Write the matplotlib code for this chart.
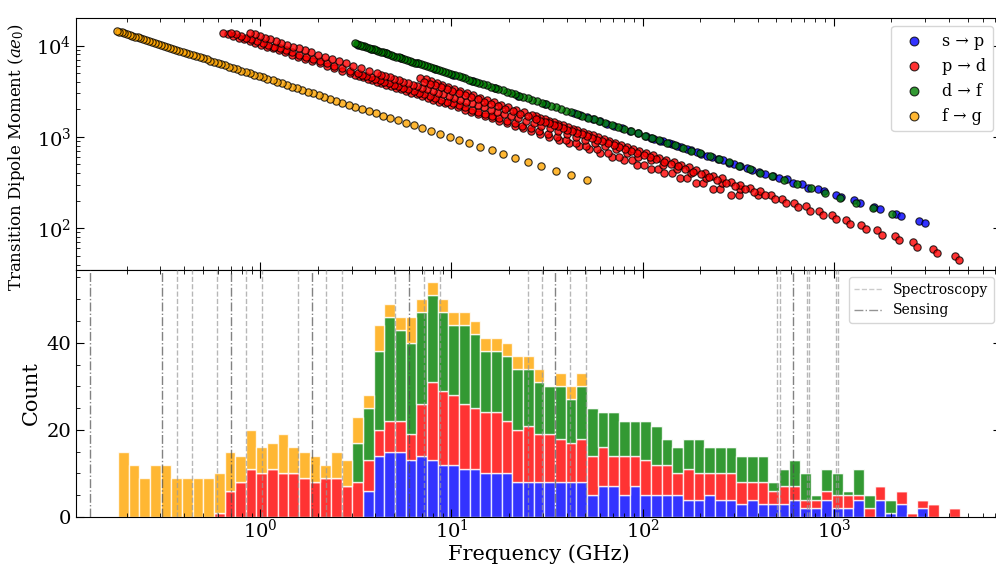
import numpy as np
import matplotlib
matplotlib.use("Agg")
import matplotlib.pyplot as plt
from matplotlib.ticker import MultipleLocator
from matplotlib.lines import Line2D

plt.rcParams['font.family'] = 'serif'
plt.rcParams['font.serif'] = ['DejaVu Serif']
plt.rcParams['mathtext.fontset'] = 'dejavuserif'
plt.rcParams['xtick.direction'] = 'in'
plt.rcParams['ytick.direction'] = 'in'
plt.rcParams['xtick.top'] = True
plt.rcParams['ytick.right'] = True
plt.rcParams['xtick.major.size'] = 6
plt.rcParams['ytick.major.size'] = 6
plt.rcParams['xtick.minor.size'] = 3
plt.rcParams['ytick.minor.size'] = 3

# ---------------- scatter data: frequency (GHz) / dipole moment (a e0) ----------------
# s -> p (two fine-structure branches)
sp1_freq = [2800, 2104, 1620, 1275, 1020, 830, 684, 570, 480, 408, 350, 302, 263, 230, 203,
            179, 159, 142, 128, 115, 104, 94.0, 85.5, 77.9, 71.2, 65.3, 60.0, 55.3, 51.0, 47.2,
            43.8, 30.7, 22.4, 16.8, 13.0, 10.2, 8.16, 6.64, 5.47, 4.56, 3.84, 3.26]
sp1_dip = [119, 144, 171, 201, 233, 268, 305, 344, 369, 412, 456, 503, 552, 603, 657,
           713, 771, 831, 894, 959, 1026, 1096, 1167, 1241, 1318, 1397, 1477, 1561, 1646, 1734,
           1824, 2298, 2836, 3438, 4081, 4801, 5566, 6387, 7264, 8200, 9191, 10257]
sp2_freq = [3000, 2254, 1736, 1366, 1093, 889, 732, 611, 515, 437, 375, 324, 282, 247, 217,
            192, 171, 152, 137, 123, 111]
sp2_dip = [113, 137, 163, 191, 222, 254, 276, 312, 350, 390, 432, 476, 523, 571, 622,
           675, 730, 787, 847, 908, 972]

# p -> d : three low-frequency branches (shared dipoles) and two high-frequency branches
pd_a_dip = [233, 271, 311, 353, 399, 447, 498, 552, 609, 668, 730, 795, 863, 933, 1006, 1082,
            1161, 1242, 1326, 1413, 1503, 1595, 1691, 1788, 1889, 1993, 2099, 2208, 2320, 2434,
            2552, 2672, 2795, 2920, 3048, 3180, 3313, 3450, 3589, 3732, 3876, 4024, 4175, 4328,
            4483, 4642, 4804, 4968, 5305, 5652, 6011, 6381, 6762, 7154, 7557, 7971, 8396, 8832,
            9279, 9737, 10207, 10687, 11178, 11680, 12194, 12718, 13254, 13800]
pd_a1_freq = [291, 233, 190, 156, 130, 110, 93.3, 80.0, 69.1, 60.1, 52.6, 46.3, 41.0, 36.4,
              32.5, 29.2, 26.2, 23.7, 21.5, 19.5, 17.8, 16.3, 14.9, 13.7, 12.6, 11.7, 10.8,
              10.0, 9.29, 8.64, 8.05, 7.51, 7.02, 6.57, 6.16, 5.79, 5.44, 5.12, 4.82, 4.55,
              4.30, 4.06, 3.85, 3.64, 3.46, 3.28, 3.12, 2.96, 2.69, 2.44, 2.23, 2.04, 1.87,
              1.71, 1.58, 1.46, 1.35, 1.25, 1.16, 1.08, 1.01, 0.939, 0.878, 0.822, 0.771,
              0.723, 0.680, 0.640]
pd_a2_freq = [319, 255, 207, 171, 143, 120, 102, 87.5, 75.6, 65.7, 57.5, 50.6, 44.8, 39.8,
              35.6, 31.9, 28.7, 25.9, 23.5, 21.4, 19.5, 17.8, 16.3, 15.0, 13.8, 12.8, 11.8,
              10.9, 10.2, 9.45, 8.81, 8.22, 7.68, 7.19, 6.74, 6.33, 5.95, 5.60, 5.28, 4.98,
              4.70, 4.45, 4.21, 3.99, 3.78, 3.59, 3.41, 3.24, 2.94, 2.67, 2.43, 2.23, 2.04,
              1.88, 1.73, 1.59, 1.47, 1.37, 1.27, 1.18, 1.10, 1.03, 0.960, 0.899, 0.843,
              0.791, 0.743, 0.700]
pd_a3_freq = [401, 321, 261, 215, 179, 151, 128, 110, 95.0, 82.6, 72.3, 63.7, 56.3, 50.1,
              44.7, 40.1, 36.1, 32.6, 29.5, 26.9, 24.5, 22.4, 20.5, 18.9, 17.4, 16.0, 14.8,
              13.8, 12.8, 11.9, 11.1, 10.3, 9.65, 9.04, 8.48, 7.96, 7.48, 7.04, 6.63, 6.26,
              5.91, 5.59, 5.29, 5.01, 4.75, 4.51, 4.28, 4.07, 3.69, 3.36, 3.06, 2.80, 2.57,
              2.36, 2.17, 2.00, 1.85, 1.72, 1.60, 1.48, 1.38, 1.29, 1.21, 1.13, 1.06, 0.994,
              0.935, 0.880]
pd_b1_freq = [4282, 3299, 2595, 2077, 1689, 1391, 1160, 978, 831, 713, 616, 535, 469, 412,
              365, 324, 290, 260, 234, 211, 191, 174, 159, 145, 133, 122, 113, 104, 96.1,
              89.1, 82.7, 77.0, 71.7, 66.9, 62.5, 58.5, 54.9, 51.5, 48.5, 45.6, 43.0, 40.5,
              38.3, 36.2, 34.3, 32.5, 30.8, 29.2, 27.8, 26.4, 23.9, 21.7, 19.8, 18.1, 16.6,
              15.3, 14.1, 13.0, 12.0, 11.1, 10.3, 9.62, 8.96, 8.36, 7.82, 7.32, 6.86]
pd_b1_dip = [49.2, 59.1, 69.9, 81.7, 94.4, 108, 123, 138, 155, 173, 191, 211, 232, 253, 276,
             300, 324, 350, 377, 405, 434, 463, 494, 526, 559, 594, 629, 665, 702, 741, 780,
             820, 862, 905, 948, 993, 1039, 1086, 1134, 1183, 1233, 1285, 1337, 1391, 1445,
             1501, 1558, 1616, 1675, 1735, 1859, 1987, 2119, 2257, 2398, 2544, 2695, 2850,
             3010, 3174, 3343, 3517, 3695, 3878, 4065, 4257, 4454]
pd_b2_freq = [4508, 3472, 2731, 2186, 1778, 1465, 1221, 1029, 875, 750, 648, 564, 493, 434,
              384, 341, 305, 273, 246, 222, 201, 183, 167, 153, 140, 129, 118, 109, 101,
              93.8, 87.1, 81.0, 75.5, 70.4, 65.8, 61.6, 57.8, 54.3, 51.0, 48.0, 45.2, 42.7,
              40.3, 38.1, 36.1, 34.2, 32.4, 30.8, 29.2, 27.8, 25.2, 22.9, 20.9, 19.1, 17.5,
              16.1, 14.8, 13.7, 12.6, 11.7, 10.9, 10.1, 9.43, 8.80, 8.23, 7.70, 7.22]
pd_b2_dip = [44.3, 53.2, 62.9, 73.5, 85.0, 97.3, 111, 125, 140, 155, 172, 190, 208, 228, 248,
             270, 292, 315, 339, 364, 390, 417, 445, 474, 504, 534, 566, 598, 632, 667, 702,
             738, 776, 814, 854, 894, 935, 977, 1021, 1065, 1110, 1157, 1203, 1252, 1301,
             1351, 1402, 1454, 1508, 1562, 1673, 1788, 1907, 2031, 2158, 2290, 2426, 2565,
             2709, 2857, 3009, 3165, 3326, 3490, 3659, 3831, 4009]

# d -> f
df_freq = [2003, 1603, 1304, 1074, 895, 755, 642, 550, 475, 413, 362, 318, 282, 250, 224,
           200, 180, 163, 148, 134, 122, 112, 103, 94.3, 86.9, 80.2, 74.2, 68.8, 63.8, 59.4,
           55.4, 51.7, 48.3, 45.2, 42.4, 39.8, 37.4, 35.2, 33.2, 31.3, 29.6, 27.9, 26.4, 25.1,
           23.8, 22.6, 21.4, 20.4, 19.4, 18.5, 17.6, 16.8, 16.0, 15.3, 14.6, 14.0, 13.4, 12.8,
           12.3, 11.8, 11.3, 10.9, 10.4, 10.0, 9.64, 9.27, 8.92, 8.59, 8.28, 7.98, 7.70, 7.42,
           7.16, 6.92, 6.68, 6.45, 6.24, 6.04, 5.84, 5.65, 5.47, 5.30, 5.13, 4.97, 4.82, 4.67,
           4.54, 4.40, 4.27, 4.15, 4.03, 3.91, 3.80, 3.69, 3.59, 3.49, 3.40, 3.31, 3.22, 3.13]
df_dip = [142, 165, 189, 215, 243, 272, 303, 336, 370, 407, 444, 484, 525, 568, 612, 659, 706,
          756, 807, 860, 915, 971, 1029, 1089, 1150, 1213, 1278, 1344, 1412, 1482, 1553, 1626,
          1701, 1777, 1856, 1935, 2017, 2100, 2185, 2271, 2360, 2449, 2541, 2634, 2729, 2826,
          2924, 3024, 3126, 3229, 3334, 3441, 3549, 3659, 3771, 3884, 3999, 4116, 4234, 4355,
          4476, 4600, 4725, 4852, 4980, 5111, 5242, 5376, 5511, 5648, 5787, 5927, 6069, 6213,
          6358, 6505, 6654, 6804, 6956, 7110, 7265, 7422, 7581, 7741, 7904, 8067, 8233, 8400,
          8569, 8739, 8912, 9085, 9261, 9438, 9617, 9798, 9980, 10164, 10350, 10537]

# f -> g
fg_freq = [51.0, 42.0, 35.0, 29.5, 25.1, 21.5, 18.6, 16.2, 14.1, 12.4, 11.0, 9.79, 8.74, 7.84,
           7.05, 6.37, 5.77, 5.25, 4.79, 4.38, 4.01, 3.69, 3.40, 3.13, 2.90, 2.69, 2.50, 2.32,
           2.16, 2.02, 1.89, 1.77, 1.66, 1.56, 1.46, 1.38, 1.30, 1.22, 1.16, 1.09, 1.03, 0.979,
           0.929, 0.882, 0.837, 0.796, 0.758, 0.722, 0.688, 0.656, 0.626, 0.598, 0.572, 0.547,
           0.524, 0.501, 0.481, 0.461, 0.442, 0.424, 0.408, 0.392, 0.377, 0.362, 0.349, 0.336,
           0.324, 0.312, 0.301, 0.290, 0.280, 0.270, 0.261, 0.252, 0.244, 0.236, 0.228, 0.221,
           0.214, 0.207, 0.201, 0.194, 0.188, 0.183, 0.177]
fg_dip = [333, 379, 428, 480, 534, 592, 653, 716, 783, 852, 925, 1000, 1079, 1160, 1245, 1332,
          1422, 1516, 1612, 1711, 1813, 1918, 2026, 2137, 2251, 2368, 2488, 2611, 2737, 2865,
          2997, 3132, 3269, 3410, 3553, 3700, 3849, 4002, 4157, 4316, 4477, 4641, 4809, 4979,
          5152, 5328, 5507, 5689, 5874, 6062, 6253, 6447, 6644, 6844, 7046, 7252, 7461, 7672,
          7887, 8104, 8325, 8548, 8775, 9004, 9237, 9472, 9710, 9952, 10196, 10443, 10693,
          10946, 11202, 11461, 11723, 11988, 12256, 12527, 12801, 13077, 13357, 13640, 13925,
          14214, 14505]

# ---------------- histogram counts per log bin (79 bins) ----------------
hist_sp = [0] * 23 + [6, 14, 15, 15, 13, 14, 13, 12, 12, 11, 11, 10, 10, 10, 8, 8, 8, 8, 8, 8, 8,
                      5, 7, 7, 5, 7, 5, 5, 5, 5, 4, 4, 5, 4, 4, 3, 4, 3, 3, 3, 4, 2, 2, 4, 2, 2,
                      4, 0, 4, 1, 3, 0, 2, 0, 0, 0]
hist_pd = [0] * 9 + [1, 6, 8, 11, 10, 11, 10, 10, 9, 8, 9, 9, 7, 8, 7, 6, 7, 7, 6, 12, 18, 17,
                     16, 15, 14, 14, 14, 12, 12, 13, 11, 11, 10, 9, 10, 9, 9, 7, 9, 7, 8, 7, 7,
                     5, 7, 6, 5, 6, 6, 5, 4, 5, 3, 4, 3, 2, 2, 2, 3, 3, 1, 2, 3, 0, 3, 1, 2, 3,
                     0, 2]
hist_df = [0] * 22 + [9, 12, 18, 24, 21, 21, 21, 20, 18, 16, 18, 17, 14, 14, 15, 14, 13, 12, 11,
                      12, 10, 12, 11, 8, 10, 8, 8, 9, 9, 6, 6, 7, 8, 6, 6, 6, 6, 6, 6, 2, 4, 6,
                      6, 1, 5, 5, 1, 6, 3, 0, 3, 0, 0, 0, 0, 0, 0]
hist_fg = [15, 12, 9, 12, 12, 9, 9, 9, 9, 9, 9, 6, 9, 6, 6, 9, 6, 6, 6, 3, 6, 6, 6, 3, 6, 3, 3,
           6, 3, 3, 3, 3, 3, 3, 3, 3, 3, 3, 3, 3, 0, 3, 3, 3] + [0] * 35

# application bands (GHz)
spectroscopy_freq = [0.368, 0.439, 0.594, 0.842, 1.017, 1.575, 2.214, 2.675, 5.06, 7.14, 8.71,
                     25.1, 29.6, 41.7, 50.5, 505, 520, 725, 745, 1020, 1045]
sensing_freq = [0.1286, 0.307, 0.703, 1.857, 6.02, 34.9, 610]

labels = ['s → p', 'p → d', 'd → f', 'f → g']
colors = ['blue', 'red', 'green', 'orange']

fig = plt.figure(figsize=(9.96, 5.67), dpi=100)
ax1 = fig.add_axes([0.0763, 0.5238, 0.9287, 0.4439])
ax2 = fig.add_axes([0.0763, 0.0882, 0.9287, 0.4356], sharex=ax1)

series = [
    (np.concatenate([sp1_freq, sp2_freq]), np.concatenate([sp1_dip, sp2_dip])),
    (np.concatenate([pd_a1_freq, pd_a2_freq, pd_a3_freq, pd_b1_freq, pd_b2_freq]),
     np.concatenate([pd_a_dip, pd_a_dip, pd_a_dip, pd_b1_dip, pd_b2_dip])),
    (np.array(df_freq), np.array(df_dip)),
    (np.array(fg_freq), np.array(fg_dip)),
]
for (fx, dy), c, lab in zip(series, colors, labels):
    ax1.scatter(fx, dy, s=28, color=c, edgecolors='black', linewidths=0.8, alpha=0.8, label=lab)

ax1.set_xscale('log')
ax1.set_yscale('log')
ax1.set_xlim(10 ** -0.964, 10 ** 3.874)
ax1.set_ylim(10 ** 1.542, 10 ** 4.298)
ax1.tick_params(axis='both', which='both', labelbottom=False, labelsize=14)
ax1.set_ylabel(r'Transition Dipole Moment ($ae_0$)', fontsize=12)
ax1.yaxis.set_label_coords(-0.053, 0.448)
ax1.legend(loc='upper right', fontsize=11.5, markerscale=1.2)

# stacked histogram
edges = np.logspace(np.log10(0.18), np.log10(4570), 80)
left = edges[:-1]
width = np.diff(edges)
bottom = np.zeros(len(left))
for counts, c in zip([hist_sp, hist_pd, hist_df, hist_fg], colors):
    counts = np.array(counts)
    ax2.bar(left, counts, width=width, bottom=bottom, align='edge', color=c, alpha=0.8,
            edgecolor='white', linewidth=1)
    bottom += counts

for f in spectroscopy_freq:
    ax2.axvline(f, color='0.6', ls='--', lw=1, alpha=0.7, zorder=3)
for f in sensing_freq:
    ax2.axvline(f, color='0.3', ls='-.', lw=1, alpha=0.7, zorder=3)

handles = [Line2D([], [], color='0.6', ls='--', lw=1, alpha=0.5),
           Line2D([], [], color='0.3', ls='-.', lw=1, alpha=0.6)]
ax2.legend(handles, ['Spectroscopy', 'Sensing'], loc='upper right', fontsize=10)

ax2.set_ylim(0, 56.7)
ax2.yaxis.set_major_locator(MultipleLocator(20))
ax2.yaxis.set_minor_locator(MultipleLocator(5))
ax2.tick_params(axis='both', which='both', labelsize=14)
ax2.tick_params(axis='x', which='both', pad=1)
ax2.set_xlabel('Frequency (GHz)', fontsize=15, labelpad=2)
ax2.set_ylabel('Count', fontsize=15)

fig.savefig('out.png', dpi=100)
